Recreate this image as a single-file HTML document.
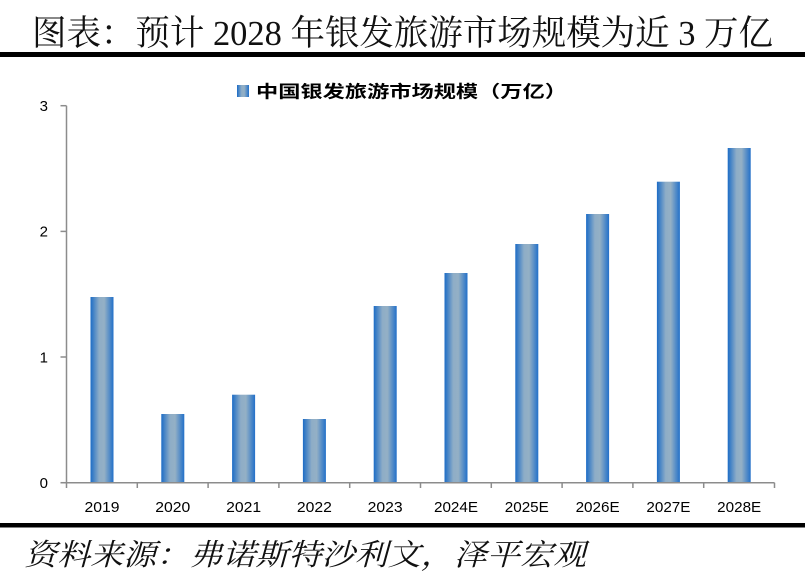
<!DOCTYPE html>
<html>
<head>
<meta charset="utf-8">
<style>
  html, body { margin: 0; padding: 0; background: #ffffff; }
  body { width: 805px; height: 580px; overflow: hidden; }
  svg { display: block; }
</style>
</head>
<body>
<svg width="805" height="580" viewBox="0 0 805 580" xmlns="http://www.w3.org/2000/svg">
  <defs>
    <linearGradient id="bg" x1="0" y1="0" x2="1" y2="0">
      <stop offset="0" stop-color="#1c6cc6"/>
      <stop offset="0.38" stop-color="#8eadc7"/>
      <stop offset="0.6" stop-color="#94b0c5"/>
      <stop offset="1" stop-color="#2270c9"/>
    </linearGradient>
  </defs>
  <rect x="0" y="0" width="805" height="580" fill="#ffffff"/>

  <!-- Title -->
  <text x="32" y="45" font-family="'Liberation Serif','Noto Serif CJK SC',serif" font-size="35" fill="#111" textLength="741" lengthAdjust="spacingAndGlyphs">图表：预计 2028 年银发旅游市场规模为近 3 万亿</text>
  <rect x="0" y="52" width="805" height="5" fill="#000"/>

  <!-- Legend -->
  <rect x="237" y="85" width="12" height="12" fill="url(#bg)"/>
  <text x="256" y="97.5" font-family="'Liberation Sans','Noto Sans CJK SC',sans-serif" font-size="17" font-weight="bold" fill="#000" textLength="311" lengthAdjust="spacingAndGlyphs">中国银发旅游市场规模（万亿）</text>

  <!-- Y axis -->
  <line x1="66.5" y1="105.7" x2="66.5" y2="482.7" stroke="#8c8c8c" stroke-width="1.5"/>
  <g stroke="#8c8c8c" stroke-width="1.5">
    <line x1="60.5" y1="105.7" x2="66.5" y2="105.7"/>
    <line x1="60.5" y1="231.4" x2="66.5" y2="231.4"/>
    <line x1="60.5" y1="357" x2="66.5" y2="357"/>
    <line x1="60.5" y1="482.7" x2="66.5" y2="482.7"/>
  </g>
  <g font-family="'Liberation Sans',sans-serif" font-size="15" fill="#000" text-anchor="end">
    <text x="48" y="111">3</text>
    <text x="48" y="236.7">2</text>
    <text x="48" y="362.3">1</text>
    <text x="48" y="488">0</text>
  </g>

  <!-- Bars -->
  <g fill="url(#bg)">
    <rect x="90.5" y="297" width="23" height="185.7"/>
    <rect x="161.3" y="414" width="23" height="68.7"/>
    <rect x="232.1" y="394.7" width="23" height="88"/>
    <rect x="302.9" y="419" width="23" height="63.7"/>
    <rect x="373.7" y="306" width="23" height="176.7"/>
    <rect x="444.5" y="273" width="23" height="209.7"/>
    <rect x="515.3" y="244" width="23" height="238.7"/>
    <rect x="586.1" y="214" width="23" height="268.7"/>
    <rect x="656.9" y="181.7" width="23" height="301"/>
    <rect x="727.7" y="148" width="23" height="334.7"/>
  </g>

  <!-- X axis -->
  <line x1="60.5" y1="482.7" x2="774.5" y2="482.7" stroke="#8c8c8c" stroke-width="1.5"/>
  <g stroke="#8c8c8c" stroke-width="1.5">
    <line x1="66.5" y1="482.7" x2="66.5" y2="488"/>
    <line x1="137.3" y1="482.7" x2="137.3" y2="488"/>
    <line x1="208.1" y1="482.7" x2="208.1" y2="488"/>
    <line x1="278.9" y1="482.7" x2="278.9" y2="488"/>
    <line x1="349.7" y1="482.7" x2="349.7" y2="488"/>
    <line x1="420.5" y1="482.7" x2="420.5" y2="488"/>
    <line x1="491.3" y1="482.7" x2="491.3" y2="488"/>
    <line x1="562.1" y1="482.7" x2="562.1" y2="488"/>
    <line x1="632.9" y1="482.7" x2="632.9" y2="488"/>
    <line x1="703.7" y1="482.7" x2="703.7" y2="488"/>
    <line x1="774.5" y1="482.7" x2="774.5" y2="488"/>
  </g>
  <g font-family="'Liberation Sans',sans-serif" font-size="15" fill="#000" text-anchor="middle">
    <text x="102" y="512" textLength="35" lengthAdjust="spacingAndGlyphs">2019</text>
    <text x="172.8" y="512" textLength="35" lengthAdjust="spacingAndGlyphs">2020</text>
    <text x="243.6" y="512" textLength="35" lengthAdjust="spacingAndGlyphs">2021</text>
    <text x="314.4" y="512" textLength="35" lengthAdjust="spacingAndGlyphs">2022</text>
    <text x="385.2" y="512" textLength="35" lengthAdjust="spacingAndGlyphs">2023</text>
    <text x="456" y="512" textLength="44" lengthAdjust="spacingAndGlyphs">2024E</text>
    <text x="526.8" y="512" textLength="44" lengthAdjust="spacingAndGlyphs">2025E</text>
    <text x="597.6" y="512" textLength="44" lengthAdjust="spacingAndGlyphs">2026E</text>
    <text x="668.4" y="512" textLength="44" lengthAdjust="spacingAndGlyphs">2027E</text>
    <text x="739.2" y="512" textLength="44" lengthAdjust="spacingAndGlyphs">2028E</text>
  </g>

  <!-- Bottom rule and source -->
  <rect x="0" y="523" width="805" height="4.5" fill="#000"/>
  <text x="24" y="565" font-family="'Liberation Serif','Noto Serif CJK SC',serif" font-size="30" font-style="italic" fill="#111" textLength="562" lengthAdjust="spacingAndGlyphs">资料来源：弗诺斯特沙利文，泽平宏观</text>
</svg>
</body>
</html>
